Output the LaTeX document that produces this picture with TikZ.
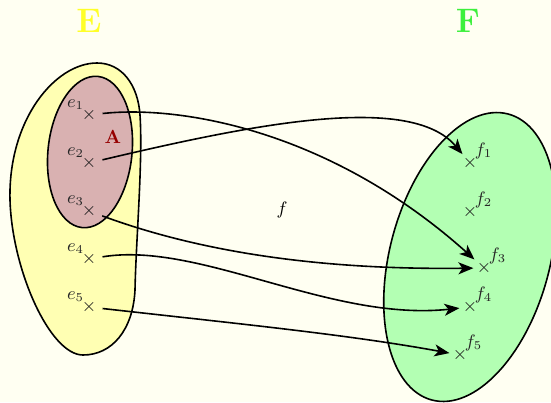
\documentclass[tikz,border=0pt]{standalone}
\usetikzlibrary{arrows.meta}
\definecolor{bgcol}{RGB}{255,255,242}
\definecolor{yfill}{RGB}{255,255,179}
\definecolor{pfill}{RGB}{217,177,177}
\definecolor{gfill}{RGB}{179,255,179}
\definecolor{etitle}{RGB}{255,255,40}
\definecolor{ftitle}{RGB}{60,240,60}
\definecolor{acol}{RGB}{150,0,0}
\begin{document}
\begin{tikzpicture}[x=0.5pt,y=-0.5pt,
  setline/.style={line width=0.8pt,draw=black},
  pt/.style={inner sep=0pt,text=black!90,font=\small},
  elab/.style={label={[inner sep=0pt,label distance=-2pt,yshift=0.6pt,text=black!85,font=\small]north west:#1}},
  flab/.style={label={[inner sep=0pt,label distance=-2pt,text=black!85,font=\small]north east:#1}},
  maparrow/.style={line width=0.8pt,-{Stealth[length=7.5pt,width=6pt,inset=2pt]},shorten <=3pt,shorten >=1.5pt},
  title/.style={font=\fontsize{17}{20}\selectfont\bfseries}]
\fill[bgcol] (0,0) rectangle (551,402);
\useasboundingbox (0,0) rectangle (551,402);
% sets
\draw[setline,fill=yfill] (97,63) .. controls (122,63) and (138,85) .. (140,115)
  .. controls (143,160) and (136,240) .. (135,290)
  .. controls (133,330) and (112,355) .. (83,355)
  .. controls (50,355) and (12,270) .. (10,200)
  .. controls (8,120) and (55,63) .. cycle;
\draw[setline,fill=pfill,rotate around={-6:(90,152)}] (90,152) ellipse [x radius=42, y radius=76];
\draw[setline,fill=gfill,rotate around={-15:(470,257)}] (470,257) ellipse [x radius=80, y radius=148];
% titles
\node[title,text=etitle] (tE) at (89,21) {E};
\node[title,text=ftitle] (tF) at (468,21) {F};
\node[font=\fontsize{9.5}{11}\selectfont\bfseries,text=acol] (A) at (113,137) {A};
\node[font=\small] (f) at (282,210) {$f$};
% points
\node[pt,elab={$e_1$}] (e1) at (89,115) {$\times$};
\node[pt,elab={$e_2$}] (e2) at (89,163) {$\times$};
\node[pt,elab={$e_3$}] (e3) at (89,211) {$\times$};
\node[pt,elab={$e_4$}] (e4) at (89,259) {$\times$};
\node[pt,elab={$e_5$}] (e5) at (89,307) {$\times$};
\node[pt,flab={$f_1$}] (f1) at (470,163) {$\times$};
\node[pt,flab={$f_2$}] (f2) at (470,212) {$\times$};
\node[pt,flab={$f_3$}] (f3) at (484,268) {$\times$};
\node[pt,flab={$f_4$}] (f4) at (470,307) {$\times$};
\node[pt,flab={$f_5$}] (f5) at (460,355) {$\times$};
% arrows
\draw[maparrow] (e1) .. controls (180,105) and (330,130) .. (f3);
\draw[maparrow] (e2) .. controls (250,125) and (410,92) .. (f1);
\draw[maparrow] (e3) .. controls (200,252) and (320,270) .. (f3);
\draw[maparrow] (e4) .. controls (200,241) and (330,322) .. (f4);
\draw[maparrow] (e5) .. controls (250,325) and (350,335) .. (f5);
\end{tikzpicture}
\end{document}
